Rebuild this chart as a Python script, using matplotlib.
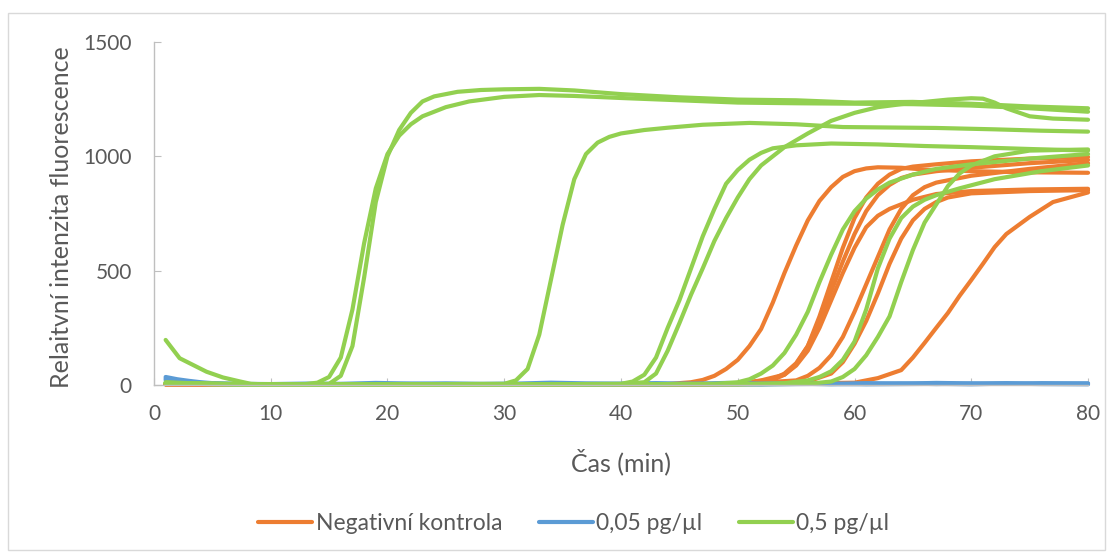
import matplotlib.pyplot as plt
from matplotlib.patches import Rectangle

plt.rcParams['font.family'] = ['Lato', 'DejaVu Sans']

# Negativní kontrola (orange)
neg_t = [
    [1, 10, 20, 30, 40, 44, 46, 47, 48, 49, 50, 51, 52, 53, 54, 55, 56, 57, 58, 59, 60, 61, 62, 64, 66, 70, 75, 80],
    [1, 10, 20, 30, 40, 50, 52, 54, 55, 56, 57, 58, 59, 60, 61, 62, 63, 64, 65, 67, 70, 75, 80],
    [1, 10, 20, 30, 40, 50, 53, 54, 55, 56, 57, 58, 59, 60, 61, 62, 63, 64, 65, 67, 70, 75, 80],
    [1, 10, 20, 30, 40, 50, 53, 54, 55, 56, 57, 58, 59, 60, 61, 62, 63, 65, 67, 70, 75, 80],
    [1, 10, 20, 30, 40, 50, 55, 56, 57, 58, 59, 60, 61, 62, 63, 64, 65, 66, 67, 70, 75, 80],
    [1, 10, 20, 30, 40, 50, 56, 58, 59, 60, 61, 62, 63, 64, 65, 66, 67, 68, 70, 75, 80],
    [1, 10, 20, 30, 40, 50, 60, 62, 64, 65, 66, 67, 68, 69, 70, 71, 72, 73, 75, 77, 80],
]
neg_v = [
    [3, 1, 2, 1, 2, 4, 12, 22, 40, 70, 110, 170, 245, 360, 490, 610, 720, 805, 865, 910, 935, 947, 952, 950, 942, 935, 930, 928],
    [3, 1, 2, 1, 2, 5, 20, 45, 90, 170, 300, 450, 600, 730, 820, 880, 920, 945, 955, 965, 978, 990, 997],
    [3, 1, 2, 1, 2, 5, 25, 50, 95, 170, 280, 410, 540, 660, 760, 830, 875, 905, 920, 935, 950, 970, 984],
    [3, 1, 2, 1, 2, 5, 22, 45, 85, 150, 250, 370, 490, 600, 690, 740, 770, 810, 835, 848, 855, 858],
    [3, 1, 2, 1, 2, 4, 20, 40, 75, 130, 210, 320, 440, 560, 680, 770, 830, 865, 885, 915, 945, 970],
    [3, 1, 2, 1, 2, 4, 15, 50, 100, 180, 280, 400, 530, 640, 720, 770, 800, 820, 838, 848, 852],
    [3, 1, 2, 1, 2, 3, 10, 30, 65, 120, 184, 250, 315, 390, 459, 530, 603, 660, 735, 800, 842],
]

# 0,05 pg/µl (blue)
low_t = [1, 2, 3, 4, 5, 7, 10, 13, 16, 19, 22, 25, 28, 31, 34, 37, 40, 43, 46, 49, 52, 55, 58, 61, 64, 67, 70, 73, 76, 80]
low_v = [
    [35, 25, 18, 12, 8, 5, 4, 6, 5, 9, 6, 7, 5, 6, 10, 7, 6, 8, 5, 9, 6, 7, 5, 8, 6, 9, 7, 5, 8, 7],
    [28, 20, 14, 9, 6, 4, 3, 2, 4, 3, 5, 3, 4, 2, 5, 3, 4, 2, 5, 3, 4, 6, 3, 5, 7, 4, 6, 8, 5, 6],
    [22, 15, 10, 7, 5, 3, 2, 3, 2, 4, 2, 3, 2, 3, 4, 2, 3, 5, 3, 4, 2, 4, 5, 3, 4, 5, 3, 6, 4, 3],
]

# 0,5 pg/µl (green)
high_t = [
    [1, 5, 10, 13, 14, 15, 16, 17, 18, 19, 20, 21, 22, 23, 25, 27, 30, 33, 36, 40, 45, 50, 55, 60, 65, 70, 75, 80],
    [1, 5, 10, 15, 16, 17, 18, 19, 20, 21, 22, 23, 24, 26, 28, 30, 33, 36, 40, 45, 50, 55, 60, 65, 70, 75, 80],
    [1, 2.2, 4.5, 5.9, 7.4, 8.3, 10, 20, 30, 31, 32, 33, 34, 35, 36, 37, 38, 39, 40, 42, 44, 47, 51, 55, 59, 63, 67, 72, 76, 80],
    [1, 10, 20, 30, 40, 41, 42, 43, 44, 45, 46, 47, 48, 49, 50, 51, 52, 53, 55, 58, 62, 66, 70, 75, 80],
    [1, 10, 20, 30, 40, 42, 43, 44, 45, 46, 47, 48, 49, 50, 51, 52, 54, 56, 58, 60, 62, 64, 66, 68, 70, 71, 72, 73, 75, 77, 80],
    [1, 10, 20, 30, 40, 48, 50, 51, 52, 53, 54, 55, 56, 57, 58, 59, 60, 61, 62, 63, 65, 67, 70, 75, 80],
    [1, 10, 20, 30, 40, 50, 54, 56, 57, 58, 59, 60, 61, 62, 63, 64, 65, 66, 67, 69, 72, 76, 80],
    [1, 10, 20, 30, 40, 50, 56, 58, 59, 60, 61, 62, 63, 64, 65, 66, 67, 68, 69, 70, 72, 75, 80],
]
high_v = [
    [12, 4, 2, 4, 10, 35, 120, 330, 620, 860, 1010, 1090, 1140, 1175, 1215, 1240, 1260, 1268, 1264, 1255, 1245, 1235, 1232, 1230, 1228, 1222, 1210, 1195],
    [10, 3, 2, 5, 40, 170, 470, 800, 1000, 1115, 1190, 1240, 1262, 1282, 1290, 1293, 1295, 1288, 1272, 1258, 1248, 1245, 1235, 1238, 1230, 1218, 1210],
    [197, 117, 58, 33, 15, 5, 2, 3, 5, 20, 70, 220, 460, 700, 900, 1010, 1060, 1085, 1100, 1115, 1125, 1138, 1146, 1140, 1128, 1126, 1124, 1118, 1112, 1108],
    [8, 2, 3, 2, 5, 15, 45, 120, 250, 370, 510, 650, 770, 880, 940, 985, 1015, 1035, 1048, 1056, 1052, 1045, 1040, 1032, 1025],
    [8, 2, 3, 2, 4, 12, 50, 150, 270, 395, 510, 630, 730, 820, 900, 960, 1040, 1100, 1155, 1190, 1215, 1228, 1238, 1248, 1254, 1252, 1235, 1210, 1175, 1165, 1160],
    [8, 2, 2, 3, 3, 5, 12, 25, 50, 85, 140, 220, 320, 450, 570, 680, 760, 815, 855, 885, 920, 945, 965, 990, 1010],
    [6, 2, 2, 2, 3, 3, 8, 20, 35, 60, 110, 190, 330, 510, 640, 730, 780, 810, 830, 860, 900, 935, 960],
    [6, 2, 2, 2, 3, 3, 5, 15, 35, 70, 130, 210, 300, 450, 590, 710, 790, 870, 925, 960, 1000, 1025, 1030],
]

series_names = ["Negativní kontrola", "0,05 pg/µl", "0,5 pg/µl"]
colors = ["#ED7D31", "#5B9BD5", "#92D050"]

fig = plt.figure(figsize=(11.14, 5.56), dpi=100)
ax = fig.add_axes([0.1382, 0.3076, 0.8385, 0.6169])

lw = 3.0
for i, (t, v) in enumerate(zip(neg_t, neg_v)):
    ax.plot(t, v, color=colors[0], lw=lw, clip_on=False, solid_capstyle='round',
            solid_joinstyle='round', label=series_names[0] if i == 0 else None)
for i, v in enumerate(low_v):
    ax.plot(low_t, v, color=colors[1], lw=lw, clip_on=False, solid_capstyle='round',
            solid_joinstyle='round', label=series_names[1] if i == 0 else None)
for i, (t, v) in enumerate(zip(high_t, high_v)):
    ax.plot(t, v, color=colors[2], lw=lw, clip_on=False, solid_capstyle='round',
            solid_joinstyle='round', label=series_names[2] if i == 0 else None)

ax.set_xlim(0, 80)
ax.set_ylim(0, 1500)
ax.set_xticks(range(0, 81, 10))
ax.set_yticks([0, 500, 1000, 1500])

for s in ['top', 'right']:
    ax.spines[s].set_visible(False)
for s in ['left', 'bottom']:
    ax.spines[s].set_color('#BFBFBF')
    ax.spines[s].set_linewidth(1.0)
ax.tick_params(axis='both', direction='in', length=5, color='#BFBFBF',
               labelcolor='#595959', labelsize=15)
ax.tick_params(axis='x', pad=14)
ax.tick_params(axis='y', pad=16)

ax.set_xlabel("Čas (min)", fontsize=18, color='#595959')
ax.set_ylabel("Relaitvní intenzita fluorescence", fontsize=18, color='#595959')
ax.xaxis.set_label_coords(0.5, -0.185)
ax.yaxis.set_label_coords(-0.087, 0.49)

fig.legend(loc='center', bbox_to_anchor=(0.515, 0.058), ncol=3, frameon=False,
           fontsize=16.5, handlelength=2.35, handletextpad=0.15, columnspacing=1.6,
           labelcolor='#595959')

fig.patches.append(Rectangle((8 / 1114, 6 / 556), 1097 / 1114, 537 / 556,
                             transform=fig.transFigure, fill=False,
                             edgecolor='#D9D9D9', lw=1.0))

fig.savefig("out.png", dpi=100)
